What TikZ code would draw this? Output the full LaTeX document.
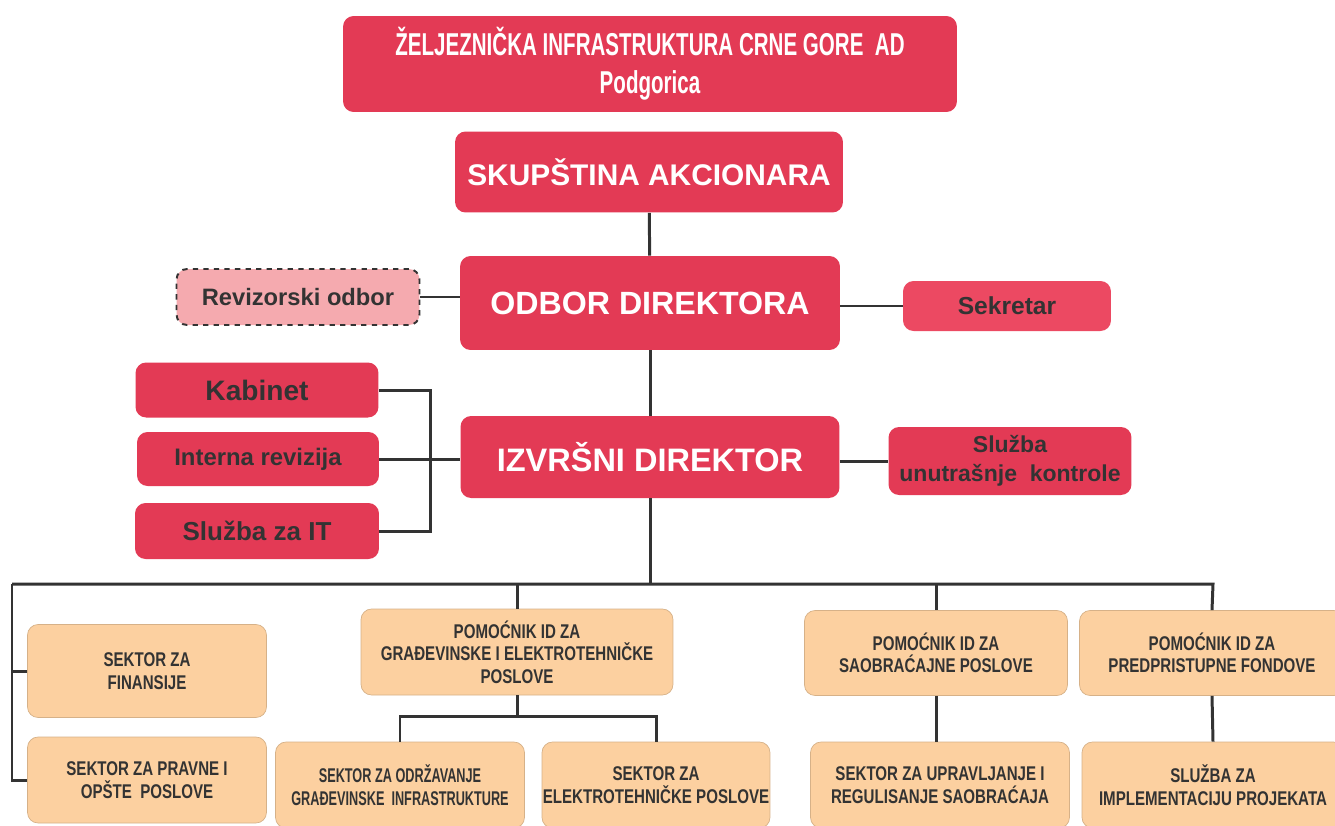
\documentclass[tikz,border=0pt]{standalone}
\usepackage{fontspec}
\setmainfont{Liberation Sans}
\newfontfamily\narrowfont[FakeStretch=0.76]{Liberation Sans}
\newfontfamily\tightfont[FakeStretch=0.64]{Liberation Sans}
\newfontfamily\titlefont[FakeStretch=0.65]{Liberation Sans}
\usepackage{tikz}
\usetikzlibrary{positioning}
\definecolor{orgred}{RGB}{227,58,85}
\definecolor{orgredlight}{RGB}{236,73,98}
\definecolor{orgpink}{RGB}{245,170,175}
\definecolor{orgpeach}{RGB}{252,208,160}
\definecolor{orgline}{RGB}{51,51,51}
\tikzstyle{redbox} = [fill=orgred, rectangle, rounded corners=6pt, inner sep=0pt, align=center, font=\bfseries]
\tikzstyle{peachbox} = [fill=orgpeach, draw=orgpeach!85!black, line width=0.4pt, rectangle, rounded corners=6pt, inner sep=0pt, align=center, text=orgline, font=\narrowfont\bfseries\fontsize{11.3}{12.8}\selectfont]
\tikzstyle{link} = [draw=orgline, line width=1.7pt]

\begin{document}
\begin{tikzpicture}[x=0.02cm, y=-0.02cm]
  \useasboundingbox (0,0) rectangle (1335,825);
  % top
  \node[redbox, text=white, minimum width=12.28cm, minimum height=1.92cm,
    font=\titlefont\bfseries\fontsize{18}{21.5}\selectfont] (firm) at (650,64)
    {ŽELJEZNIČKA INFRASTRUKTURA CRNE GORE\ \ AD\\Podgorica};
  \node[redbox, text=white, minimum width=7.76cm, minimum height=1.62cm,
    font=\bfseries\fontsize{17}{20}\selectfont] (skup) at (649,172) {SKUPŠTINA AKCIONARA};
  \node[redbox, text=white, minimum width=7.6cm, minimum height=1.88cm,
    font=\bfseries\fontsize{18.3}{22}\selectfont] (odbor) at (650,303) {ODBOR DIREKTORA};
  \node[redbox, text=white, minimum width=7.58cm, minimum height=1.64cm,
    font=\bfseries\fontsize{18.5}{22}\selectfont] (izv) at (650,457) {IZVRŠNI DIREKTOR};
  % side boxes
  \node[redbox, fill=orgpink, draw=orgline, dashed, line width=1.1pt, text=orgline,
    minimum width=4.86cm, minimum height=1.12cm,
    font=\bfseries\fontsize{13.5}{16}\selectfont] (rev) at (298,297) {Revizorski odbor};
  \node[redbox, fill=orgredlight, text=orgline, minimum width=4.16cm, minimum height=1cm,
    font=\bfseries\fontsize{14}{16}\selectfont] (sek) at (1007,306) {Sekretar};
  \node[redbox, text=orgline, minimum width=4.86cm, minimum height=1.1cm,
    font=\bfseries\fontsize{16}{18}\selectfont] (kab) at (257,390) {Kabinet};
  \node[redbox, text=orgline, minimum width=4.84cm, minimum height=1.08cm,
    font=\bfseries\fontsize{13.6}{16}\selectfont] (intrev) at (258,459) {Interna revizija};
  \node[redbox, text=orgline, minimum width=4.88cm, minimum height=1.12cm,
    font=\bfseries\fontsize{14.8}{18}\selectfont] (it) at (257,531) {Služba za IT};
  \node[redbox, text=orgline, minimum width=4.86cm, minimum height=1.36cm,
    font=\bfseries\fontsize{13.1}{16.5}\selectfont] (ukon) at (1010,461) {Služba\\unutrašnje\ \ kontrole};
  % sectors
  \node[peachbox, minimum width=4.78cm, minimum height=1.86cm] (fin) at (147,671) {SEKTOR ZA\\FINANSIJE};
  \node[peachbox, minimum width=4.78cm, minimum height=1.72cm] (prav) at (147,780) {SEKTOR ZA PRAVNE I\\OPŠTE\ \ POSLOVE};
  \node[peachbox, minimum width=6.24cm, minimum height=1.72cm] (pgep) at (517,652)
    {POMOĆNIK ID ZA\\GRAĐEVINSKE I ELEKTROTEHNIČKE\\POSLOVE};
  \node[peachbox, minimum width=5.26cm, minimum height=1.7cm] (psao) at (936,653)
    {POMOĆNIK ID ZA\\SAOBRAĆAJNE POSLOVE};
  \node[peachbox, minimum width=5.3cm, minimum height=1.7cm] (ppred) at (1212,653)
    {POMOĆNIK ID ZA\\PREDPRISTUPNE FONDOVE};
  \node[peachbox, minimum width=4.98cm, minimum height=1.72cm,
    font=\tightfont\bfseries\fontsize{11.3}{12.8}\selectfont] (odrz) at (400,785)
    {SEKTOR ZA ODRŽAVANJE\\GRAĐEVINSKE\ \ INFRASTRUKTURE};
  \node[peachbox, minimum width=4.56cm, minimum height=1.72cm] (elek) at (656,785)
    {SEKTOR ZA\\ELEKTROTEHNIČKE POSLOVE};
  \node[peachbox, minimum width=5.18cm, minimum height=1.72cm] (upr) at (940,785)
    {SEKTOR ZA UPRAVLJANJE I\\REGULISANJE SAOBRAĆAJA};
  \node[peachbox, minimum width=5.24cm, minimum height=1.72cm] (impl) at (1213,785)
    {SLUŽBA ZA\\IMPLEMENTACIJU PROJEKATA};
  \coordinate (busL) at (12,584);
  \coordinate (busR) at (1213,584);
  \coordinate (gepJ) at (522,716);
  % links
  \draw[link] (skup) -- (odbor);
  \draw[link] (odbor) -- (izv);
  \draw[link] (rev.east) -- (rev.east -| odbor.west);
  \draw[link] (odbor.east |- sek.west) -- (sek.west);
  \draw[link] (izv.east |- ukon.west) -- (ukon.west);
  \draw[link] (kab.east) -- ++(52,0) |- (it.east);
  \draw[link] (intrev.east) -- (intrev.east -| izv.west);
  \draw[link] (izv.south) -- (izv.south |- busL);
  \draw[link] (busL) -- (busR) -- (ppred.north);
  \draw[link] (busL) |- (fin.west);
  \draw[link] (busL) |- (prav.west);
  \draw[link] (pgep.north |- busL) -- (pgep.north);
  \draw[link] (psao.north |- busL) -- (psao.north);
  \draw[link] (pgep.south) -- (pgep.south |- gepJ);
  \draw[link] (odrz.north) |- (gepJ) -| (elek.north);
  \draw[link] (psao.south) -- (psao.south |- upr.north);
  \draw[link] (ppred.south) -- (impl.north);
\end{tikzpicture}
\end{document}
